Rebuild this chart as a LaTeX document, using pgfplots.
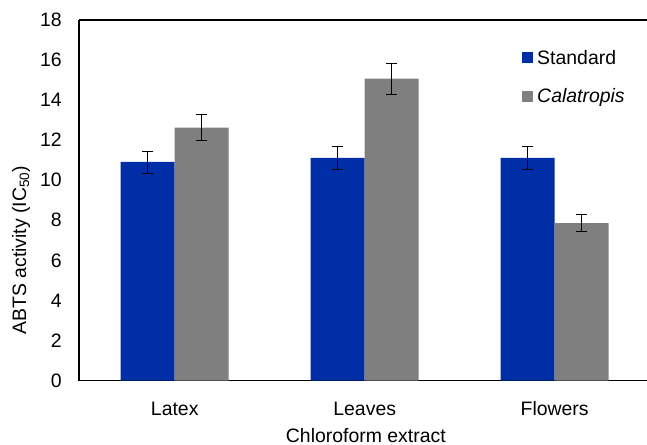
\documentclass[border=0pt]{standalone}
\usepackage{pgfplots}
\pgfplotsset{compat=1.18}
\usepackage{fontspec}
\setmainfont{Liberation Sans}
\definecolor{stdblue}{RGB}{0,46,166}
\definecolor{calgray}{RGB}{127,127,127}
\begin{document}
\begin{tikzpicture}
\begin{axis}[
  name=ax,
  scale only axis,
  width=568bp, height=360.5bp,
  xmin=-0.504, xmax=2.486,
  ymin=0, ymax=18,
  ytick={0,2,...,18},
  xtick={0,1,2},
  xticklabels={Latex,Leaves,Flowers},
  axis x line*=box,
  axis y line*=left,
  axis line style={line width=1.2pt, -},
  major tick length=0pt,
  tick style={draw=none},
  font=\fontsize{19.5}{23}\selectfont,
  /pgf/number format/assume math mode=true,
  yticklabel style={anchor=east, inner sep=0pt, xshift=-17bp},
  xticklabel style={anchor=north, inner sep=0pt, yshift=-21bp},
  xlabel={Chloroform extract},
  xlabel style={at={(axis description cs:0.505,0)}, anchor=north, inner sep=0pt, yshift=-47.5bp},
  ylabel={ABTS activity (IC\textsubscript{50})},
  ylabel style={at={(axis description cs:-0.102,0.362)}, anchor=center, inner sep=0pt},
  ybar=0pt,
  bar width=54bp,
  legend style={at={(axis description cs:0.78,0.917)}, anchor=north west, draw=none, fill=none,
    inner sep=0pt, row sep=23bp, column sep=4bp, nodes={inner sep=0pt}},
  legend cell align=left,
  legend image code/.code={\fill[#1] (0bp,-5.5bp) rectangle (11bp,5.5bp);},
  error bars/error bar style={black, line width=0.8pt},
  error bars/error mark options={black, rotate=90, mark size=5.3bp, line width=0.8pt},
]
\addplot[fill=stdblue, draw=none, error bars/.cd, y dir=both, y explicit]
  coordinates {(0,10.91) +- (0,0.55) (1,11.11) +- (0,0.58) (2,11.11) +- (0,0.58)};
\addlegendentry{Standard}
\addplot[fill=calgray, draw=none, error bars/.cd, y dir=both, y explicit]
  coordinates {(0,12.62) +- (0,0.65) (1,15.07) +- (0,0.76) (2,7.86) +- (0,0.42)};
\addlegendentry{\itshape Calatropis}
\end{axis}
\pgfresetboundingbox
\path ([xshift=-79bp,yshift=-64.5bp]ax.south west) rectangle ([yshift=20bp]ax.north east);
\end{tikzpicture}
\end{document}
